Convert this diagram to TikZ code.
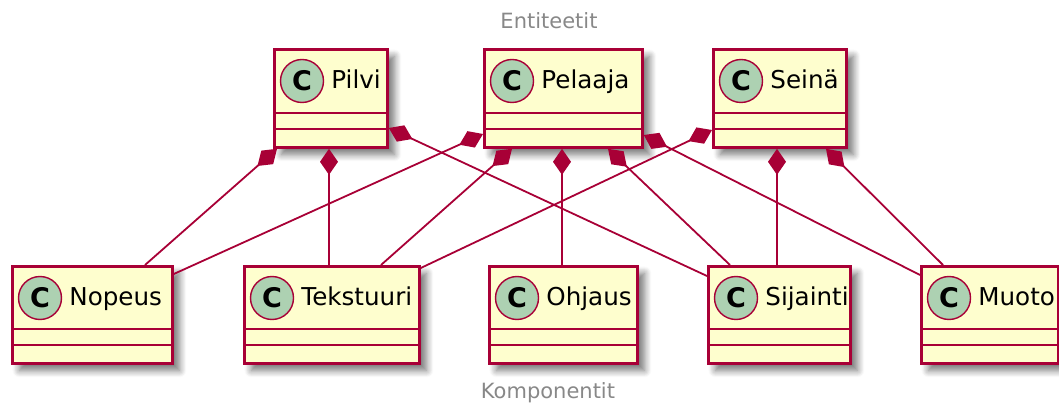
\documentclass[tikz,border=0pt]{standalone}
\usepackage{fontspec}
\setmainfont{DejaVu Sans}
\usetikzlibrary{calc,arrows.meta,shadows.blur}
\definecolor{umlborder}{HTML}{A80036}
\definecolor{umlfill}{HTML}{FEFECE}
\definecolor{umlcircle}{HTML}{ADD1B2}
\definecolor{umltitle}{HTML}{888888}
\tikzset{
  clsbox/.style={draw=umlborder, fill=umlfill, line width=1.4pt, rectangle,
    inner sep=0pt, anchor=north west,
    blur shadow={shadow xshift=3.5pt, shadow yshift=-3.5pt, shadow blur radius=3.5pt,
      shadow blur steps=8, shadow opacity=55}},
  clssep/.style={draw=umlborder, line width=1.3pt},
  clsicon/.style={circle, draw=umlborder, fill=umlcircle, line width=0.7pt,
    minimum size=21.5pt, inner sep=0pt,
    font=\fontsize{13.5}{14}\selectfont\bfseries},
  clsname/.style={anchor=base west, inner sep=0pt, font=\fontsize{12.3}{14}\selectfont},
  grouptitle/.style={text=umltitle, inner sep=0pt, font=\fontsize{10.5}{12}\selectfont},
  comp/.style={draw=umlborder, line width=0.9pt,
    {Diamond[length=13pt, width=9pt, fill=umlborder]}-}
}
% one class box: name, left, top, width (pt), height (pt), header height (px), label
\newcommand{\umlclass}[7]{%
  \node[clsbox, minimum width=#4, minimum height=#5] (#1) at (#2,#3) {};
  \draw[clssep] ($(#1.north west)+(0,#6)$) -- ($(#1.north east)+(0,#6)$);
  \draw[clssep] ($(#1.north west)+(0,#6+16)$) -- ($(#1.north east)+(0,#6+16)$);
  \node[clsicon] (#1icon) at ($(#1.north west)+(29,33)$) {C};
  \node[clsname] (#1name) at ($(#1icon.center)+(29,8)$) {#7};
}
\begin{document}
\begin{tikzpicture}[x=0.5pt, y=-0.5pt]
\useasboundingbox (0,0) rectangle (1059,405);

\node[grouptitle] (ent) at (549,21) {Entiteetit};
\node[grouptitle] (komp) at (548,393) {Komponentit};

% entities
\umlclass{Pilvi}{273}{48}{56.5pt}{49pt}{65}{Pilvi}
\umlclass{Pelaaja}{483}{48}{79pt}{49pt}{65}{Pelaaja}
\umlclass{Seina}{712}{48}{66.5pt}{49pt}{65}{Seinä}

% components
\umlclass{Nopeus}{11}{265}{80pt}{48.5pt}{64}{Nopeus}
\umlclass{Tekstuuri}{243}{265}{87.5pt}{48.5pt}{64}{Tekstuuri}
\umlclass{Ohjaus}{488}{265}{74pt}{48.5pt}{64}{Ohjaus}
\umlclass{Sijainti}{707}{265}{71pt}{48.5pt}{64}{Sijainti}
\umlclass{Muoto}{920}{265}{68.5pt}{48.5pt}{64}{Muoto}

% compositions
\draw[comp] ($(Pilvi.south west)+(4,0)$) -- ($(Nopeus.north west)+(134,0)$);
\draw[comp] ($(Pilvi.south west)+(56,0)$) -- ($(Tekstuuri.north west)+(86,0)$);
\draw[comp] ($(Pilvi.north east)+(0,80)$) -- ($(Sijainti.north west)+(0,11)$);

\draw[comp] ($(Pelaaja.north west)+(0,86)$) -- ($(Nopeus.north east)+(0,9)$);
\draw[comp] ($(Pelaaja.south west)+(29,0)$) -- ($(Tekstuuri.north west)+(138,0)$);
\draw[comp] ($(Pelaaja.south west)+(79,0)$) -- ($(Ohjaus.north west)+(74,0)$);
\draw[comp] ($(Pelaaja.south west)+(125,0)$) -- ($(Sijainti.north west)+(23,0)$);
\draw[comp] ($(Pelaaja.north east)+(0,87)$) -- ($(Muoto.north west)+(0,10)$);

\draw[comp] ($(Seina.north west)+(0,82)$) -- ($(Tekstuuri.north east)+(0,3)$);
\draw[comp] ($(Seina.south west)+(65,0)$) -- ($(Sijainti.north west)+(70,0)$);
\draw[comp] ($(Seina.south west)+(114,0)$) -- ($(Muoto.north west)+(23,0)$);
\end{tikzpicture}
\end{document}
